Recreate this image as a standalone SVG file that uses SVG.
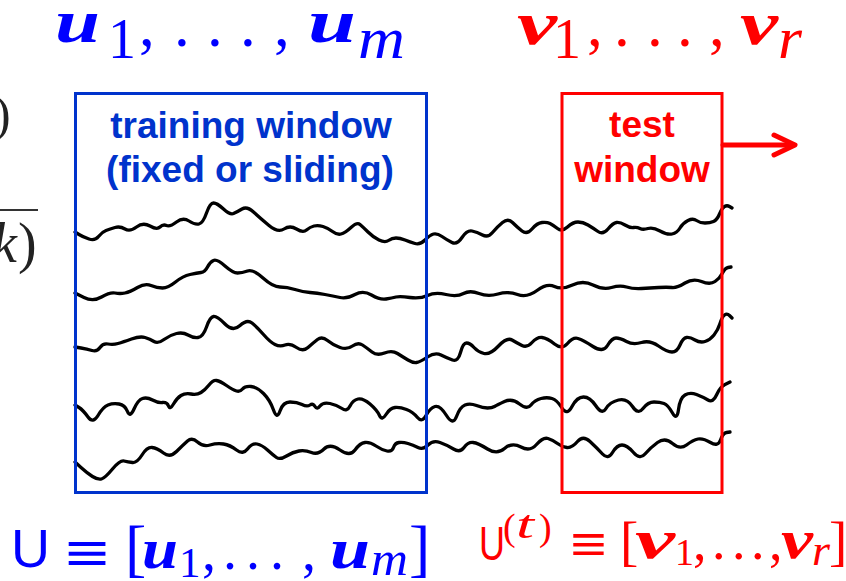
<svg xmlns="http://www.w3.org/2000/svg" width="846" height="581" viewBox="0 0 846 581">
<defs>
<style>
.m{font-family:"Liberation Serif","DejaVu Serif",serif;}
.b{font-weight:bold;font-style:italic;}
.i{font-style:italic;}
.eq{font-family:"Liberation Sans","DejaVu Sans",sans-serif;}
.sans{font-family:"Liberation Sans",Arial,sans-serif;}
.blue{fill:#0000ff;}
.red{fill:#ff0000;}
.lbl{font-family:"Liberation Sans",Arial,sans-serif;font-weight:bold;font-size:37px;text-anchor:middle;}
.wave{fill:none;stroke:#000;stroke-width:3.3;stroke-linejoin:round;stroke-linecap:round;}
</style>
</defs>
<rect width="846" height="581" fill="#fff"/>

<g id="left-fragment" fill="#222">
<text class="m" x="-6" y="131" font-size="50">)</text>
<rect x="0" y="209" width="38" height="2" fill="#333"/>
<text class="m i" x="-8" y="262" font-size="56">k</text>
<text class="m" x="18" y="262" font-size="56">)</text>
</g>

<g id="signals">
<path class="wave" d="M75,232 L79,234.5 Q83,237 89,239 Q95,241 98.5,236.5 Q102,232 106,230.5 Q110,229 115,227.5 Q120,226 125,229 Q130,232 136.5,227 Q143,222 150,226 Q157,230 160,227 Q163,224 166.5,225.5 Q170,227 176.5,222 Q183,217 189,221 Q195,225 199,224 Q203,223 206.5,213 Q210,203 213.5,203 Q217,203 223.5,209 Q230,215 233.5,213.5 Q237,212 242,209 Q247,206 253.5,212 Q260,218 269,225.5 Q278,233 284,229 Q290,225 296.5,229 Q303,233 306.5,230 Q310,227 314,226 Q318,225 323,226.5 Q328,228 332.5,231.5 Q337,235 341,234 Q345,233 351,227.5 Q357,222 360,224.5 Q363,227 368,232 Q373,237 379,240 Q385,243 388.5,240.5 Q392,238 396,238 Q400,238 405,240 Q410,242 415,243.5 Q420,245 425,240 Q430,235 433.5,234 Q437,233 442,236.5 Q447,240 452,242.5 Q457,245 462,237.5 Q467,230 472,231 Q477,232 482.5,235 Q488,238 492.5,232.5 Q497,227 502.5,222.5 Q508,218 512.5,222.5 Q517,227 522,231 Q527,235 532,229 Q537,223 542,222.5 Q547,222 550,223.5 Q553,225 557.5,228.5 Q562,232 567.5,227 Q573,222 578,222 Q583,222 588,225 Q593,228 598,231.5 Q603,235 608,229 Q613,223 616.5,222.5 Q620,222 625,225 Q630,228 633.5,227.5 Q637,227 640,228.5 Q643,230 648,228.5 Q653,227 660,231 Q667,235 672,234 Q677,233 680,228 Q683,223 688,220.5 Q693,218 696.5,220.5 Q700,223 705,223 Q710,223 713.5,221.5 Q717,220 719.5,214 Q722,208 724.5,206.5 Q727,205 729.5,206.5 L732,208"/>
<path class="wave" d="M75,293 L84,297.5 Q93,302 101.5,297 Q110,292 115,293 Q120,294 125,293 Q130,292 137.5,287.5 Q145,283 151,285.5 Q157,288 162.5,288 Q168,288 175.5,282 Q183,276 190,274.5 Q197,273 201,272.5 Q205,272 207.5,267 Q210,262 213.5,260.5 Q217,259 225,266 Q233,273 237.5,273 Q242,273 247.5,271 Q253,269 263,278 Q273,287 280,287 Q287,287 295,289.5 Q303,292 310,292.5 Q317,293 325,294.5 Q333,296 340,297.5 Q347,299 355,294.5 Q363,290 371.5,295 Q380,300 386,299 Q392,298 396,297 Q400,296 410,297.5 Q420,299 427.5,295.5 Q435,292 446,294.5 Q457,297 463.5,293.5 Q470,290 479,293.5 Q488,297 498,294 Q508,291 517.5,294.5 Q527,298 537,290.5 Q547,283 554.5,286.5 Q562,290 572.5,285 Q583,280 593,285 Q603,290 611.5,287.5 Q620,285 626.5,287 Q633,289 641.5,288.5 Q650,288 658.5,287.5 Q667,287 672,287.5 Q677,288 685,283 Q693,278 701.5,281.5 Q710,285 715,281.5 Q720,278 722.5,273 Q725,268 728,267.5 L731,267"/>
<path class="wave" d="M75,347 L81,348 Q87,349 92,350.5 Q97,352 100,347.5 Q103,343 108,344 Q113,345 118,343.5 Q123,342 131.5,339 Q140,336 145,337.5 Q150,339 154,341.5 Q158,344 164,339.5 Q170,335 176.5,333.5 Q183,332 188,335 Q193,338 198,337.5 Q203,337 206.5,327 Q210,317 213.5,316.5 Q217,316 225,324 Q233,332 240,325.5 Q247,319 252,323 Q257,327 263.5,334.5 Q270,342 275,344.5 Q280,347 285,345 Q290,343 296.5,347.5 Q303,352 308,347.5 Q313,343 317.5,339.5 Q322,336 327.5,340.5 Q333,345 340,347.5 Q347,350 352.5,346 Q358,342 362.5,345 Q367,348 372,352 Q377,356 384.5,353 Q392,350 397.5,353.5 Q403,357 408,360 Q413,363 416.5,362.5 Q420,362 427.5,357 Q435,352 441,355 Q447,358 452.5,360 Q458,362 460.5,352.5 Q463,343 466.5,343 Q470,343 474,347.5 Q478,352 484,353.5 Q490,355 498.5,346 Q507,337 512,340 Q517,343 522,345.5 Q527,348 532,342.5 Q537,337 542,337.5 Q547,338 554.5,344 Q562,350 567.5,343.5 Q573,337 578,338.5 Q583,340 593,346.5 Q603,353 607.5,345.5 Q612,338 616,338 Q620,338 626.5,341.5 Q633,345 641.5,342.5 Q650,340 658.5,346 Q667,352 672,352 Q677,352 680,345 Q683,338 686.5,337.5 Q690,337 695,340 Q700,343 705,341.5 Q710,340 714,335 Q718,330 720,323.5 Q722,317 724.5,315 Q727,313 729.5,315.5 L732,318"/>
<path class="wave" d="M75,405 L79,407.5 Q83,410 88,417 Q93,424 98,415.5 Q103,407 108,405 Q113,403 119,404 Q125,405 127.5,411.5 Q130,418 134,409 Q138,400 142.5,398.5 Q147,397 152.5,400 Q158,403 162.5,402.5 Q167,402 168.5,406 Q170,410 173.5,404 Q177,398 181,395.5 Q185,393 191,394 Q197,395 201,392.5 Q205,390 209,385 Q213,380 216.5,380.5 Q220,381 226.5,385.5 Q233,390 236.5,391 Q240,392 242.5,389 Q245,386 251,386.5 Q257,387 263.5,393.5 Q270,400 273.5,410 Q277,420 280,411 Q283,402 290,402 Q297,402 302,404.5 Q307,407 310,405 Q313,403 315,406.5 Q317,410 320,406 Q323,402 330,403.5 Q337,405 342,408.5 Q347,412 350,406 Q353,400 358,399 Q363,398 370,404 Q377,410 379.5,415.5 Q382,421 386,414.5 Q390,408 395,407.5 Q400,407 406.5,409.5 Q413,412 417.5,417.5 Q422,423 426,415.5 Q430,408 435,406.5 Q440,405 446.5,415.5 Q453,426 456.5,416.5 Q460,407 465,405 Q470,403 476.5,405.5 Q483,408 487.5,408 Q492,408 494.5,406.5 Q497,405 504.5,401.5 Q512,398 519.5,404 Q527,410 531,405 Q535,400 541,398.5 Q547,397 552,398.5 Q557,400 562,408 Q567,416 572,406.5 Q577,397 583.5,397 Q590,397 596,406 Q602,415 606,408.5 Q610,402 618.5,400 Q627,398 632.5,406.5 Q638,415 643,408.5 Q648,402 654,402 Q660,402 664,403.5 Q668,405 672.5,413 Q677,421 678.5,409.5 Q680,398 685,395 Q690,392 696.5,394.5 Q703,397 708,400 Q713,403 716.5,395 Q720,387 725,384.5 L730,382"/>
<path class="wave" d="M75,462 L81,467.5 Q87,473 92.5,476.5 Q98,480 101.5,479 Q105,478 112.5,469 Q120,460 124,461 Q128,462 132.5,462.5 Q137,463 142,455 Q147,447 152,447.5 Q157,448 163.5,453 Q170,458 176.5,451.5 Q183,445 187.5,441 Q192,437 197.5,442 Q203,447 210,445 Q217,443 223.5,444 Q230,445 236.5,450 Q243,455 247.5,449 Q252,443 257,444 Q262,445 267.5,450 Q273,455 276.5,457.5 Q280,460 286.5,456 Q293,452 299,451 Q305,450 311.5,452.5 Q318,455 324,449 Q330,443 340,450 Q350,457 355,450 Q360,443 365,442.5 Q370,442 376,446 Q382,450 387,451 Q392,452 393.5,447.5 Q395,443 399,442.5 Q403,442 408,443.5 Q413,445 418,447.5 Q423,450 428,445 Q433,440 440,442.5 Q447,445 453.5,449 Q460,453 464,447.5 Q468,442 473,442.5 Q478,443 487.5,449 Q497,455 504.5,448.5 Q512,442 521,447 Q530,452 536.5,444.5 Q543,437 548,438.5 Q553,440 557.5,443.5 Q562,447 567,447.5 Q572,448 577.5,441.5 Q583,435 590,441.5 Q597,448 602.5,454 Q608,460 612.5,452.5 Q617,445 622,445 Q627,445 633.5,452.5 Q640,460 645,454 Q650,448 657.5,442.5 Q665,437 672.5,443.5 Q680,450 686.5,445 Q693,440 698,439 Q703,438 710.5,442.5 Q718,447 720.5,440 Q723,433 726.5,432.5 L730,432"/>
</g>

<g id="training-window">
<rect x="75.5" y="93.5" width="351" height="399" fill="none" stroke="#0033cc" stroke-width="3"/>
<text class="lbl" fill="#0033cc" x="251" y="138">training window</text>
<text class="lbl" fill="#0033cc" x="250" y="182">(fixed or sliding)</text>
</g>

<g id="test-window">
<rect x="562" y="93.5" width="160" height="399" fill="none" stroke="#ff0000" stroke-width="3"/>
<text class="lbl" fill="#ff0000" x="642" y="137">test</text>
<text class="lbl" fill="#ff0000" x="642" y="182">window</text>
</g>

<g id="connectors" fill="none" stroke="#ff0000" stroke-width="5" stroke-linecap="round" stroke-linejoin="round">
<line x1="723" y1="145" x2="793" y2="145"/>
<polyline points="774,135 795,145 774,155"/>
</g>

<g id="label-u-top" class="m blue">
<text class="b" x="55" y="42" font-size="61" textLength="45" lengthAdjust="spacingAndGlyphs">u</text>
<text x="108" y="58" font-size="56">1</text>
<text x="139" y="46" font-size="63">,</text>
<text x="174" y="46" font-size="63">.</text>
<text x="207" y="46" font-size="63">.</text>
<text x="240" y="46" font-size="63">.</text>
<text x="274" y="46" font-size="63">,</text>
<text class="b" x="308" y="42" font-size="61" textLength="48" lengthAdjust="spacingAndGlyphs">u</text>
<text class="i" x="358" y="58" font-size="60" textLength="47" lengthAdjust="spacingAndGlyphs">m</text>
</g>
<g id="label-v-top" class="m red">
<text class="b" x="517" y="44" font-size="61" textLength="40" lengthAdjust="spacingAndGlyphs">v</text>
<text x="553" y="58" font-size="56">1</text>
<text x="587" y="46" font-size="63">,</text>
<text x="614" y="46" font-size="63">.</text>
<text x="647" y="46" font-size="63">.</text>
<text x="677" y="46" font-size="63">.</text>
<text x="709" y="46" font-size="63">,</text>
<text class="b" x="740" y="44" font-size="61" textLength="38" lengthAdjust="spacingAndGlyphs">v</text>
<text class="i" x="778" y="58" font-size="60" textLength="24" lengthAdjust="spacingAndGlyphs">r</text>
</g>

<g id="label-U" class="m blue">
<text class="sans" x="11" y="567" font-size="54">U</text>
<text class="eq" transform="translate(65,572) scale(1.35,1)" x="0" y="0" font-size="56">≡</text>
<text x="125" y="569" font-size="64">[</text>
<text class="b" x="142" y="568" font-size="56" textLength="36" lengthAdjust="spacingAndGlyphs">u</text>
<text x="179" y="577" font-size="43">1</text>
<text x="202" y="570" font-size="56">,</text>
<text x="223" y="569" font-size="56">.</text>
<text x="246" y="569" font-size="56">.</text>
<text x="270" y="569" font-size="56">.</text>
<text x="302" y="570" font-size="56">,</text>
<text class="b" x="330" y="568" font-size="56" textLength="40" lengthAdjust="spacingAndGlyphs">u</text>
<text class="i" x="371" y="575" font-size="48" textLength="37" lengthAdjust="spacingAndGlyphs">m</text>
<text x="409" y="569" font-size="64">]</text>
</g>
<g id="label-Ut" class="m red">
<text class="sans" x="479" y="560" font-size="49" textLength="26" lengthAdjust="spacingAndGlyphs">U</text>
<text x="503" y="540" font-size="38">(</text>
<text class="i" x="516" y="538" font-size="40" textLength="18" lengthAdjust="spacingAndGlyphs">t</text>
<text x="539" y="540" font-size="38">)</text>
<text class="eq" transform="translate(570,561) scale(1.25,1)" x="0" y="0" font-size="50">≡</text>
<text x="620" y="560" font-size="55">[</text>
<text class="b" x="635" y="558" font-size="54" textLength="40" lengthAdjust="spacingAndGlyphs">v</text>
<text x="675" y="565" font-size="38">1</text>
<text x="693" y="560" font-size="54">,</text>
<text x="712" y="559" font-size="54">.</text>
<text x="732" y="559" font-size="54">.</text>
<text x="751" y="559" font-size="54">.</text>
<text x="769" y="560" font-size="54">,</text>
<text class="b" x="781" y="558" font-size="54" textLength="32" lengthAdjust="spacingAndGlyphs">v</text>
<text class="i" x="812" y="565" font-size="44" textLength="18" lengthAdjust="spacingAndGlyphs">r</text>
<text x="829" y="560" font-size="55">]</text>
</g>
</svg>
